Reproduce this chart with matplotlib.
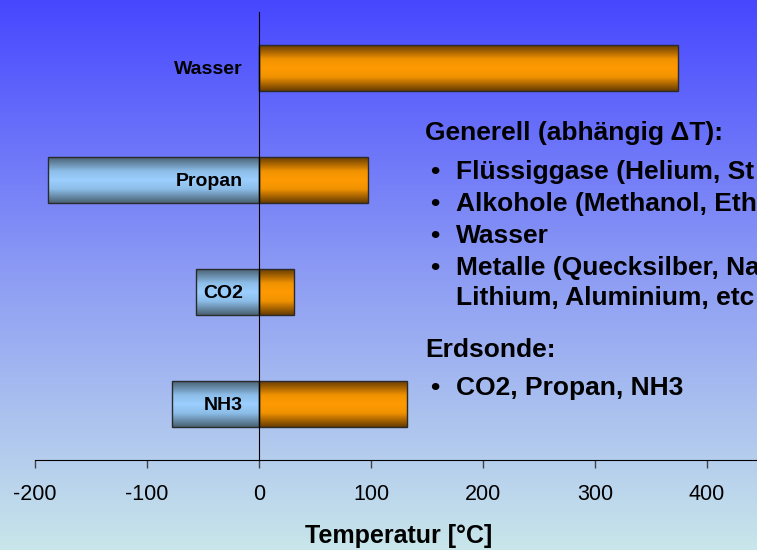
import matplotlib.pyplot as plt
import matplotlib.transforms as mtransforms
import numpy as np
from matplotlib.colors import LinearSegmentedColormap

# fluid temperature ranges (lower limit .. upper limit), bottom to top
fluids = ["NH3", "CO2", "Propan", "Wasser"]
t_low = [-78, -56, -188, 0]
t_high = [132, 31, 97, 374]
x_ticks = [-200, -100, 0, 100, 200, 300, 400]

# side notes, as far as they are visible on the slide
notes = [
    ("head", "Generell (abhängig \u0394T):"),
    ("item", "Flüssiggase (Helium, St"),
    ("item", "Alkohole (Methanol, Eth"),
    ("item", "Wasser"),
    ("item", "Metalle (Quecksilber, Na"),
    ("cont", "Lithium, Aluminium, etc"),
    ("head", "Erdsonde:"),
    ("item", "CO2, Propan, NH3"),
]
note_y = [133, 172, 204, 236, 268, 298, 350, 388]

W, H = 757, 550
plt.rcParams["font.family"] = ["Liberation Sans", "DejaVu Sans"]
fig = plt.figure(figsize=(W / 100, H / 100), dpi=100)

# background gradient
bg = fig.add_axes([0, 0, 1, 1], zorder=-5)
bg_cmap = LinearSegmentedColormap.from_list(
    "bg", [(0.0, "#4747ff"), (0.5, "#8d9cf4"), (1.0, "#c8e6ea")])
bg.imshow(np.linspace(0, 1, 256).reshape(-1, 1), aspect="auto", cmap=bg_cmap,
          extent=[0, 1, 0, 1])
bg.set_axis_off()

x0, x1 = 35, 763
ax = fig.add_axes([x0 / W, (H - 460) / H, (x1 - x0) / W, 448 / H])
ax.patch.set_alpha(0)

orange = LinearSegmentedColormap.from_list(
    "or", [(0.0, "#6a3c00"), (0.3, "#f09200"), (0.5, "#ff9a00"),
           (0.7, "#f09200"), (1.0, "#6a3c00")])
blue = LinearSegmentedColormap.from_list(
    "bl", [(0.0, "#4a6274"), (0.3, "#8cbde8"), (0.5, "#9ccfff"),
           (0.7, "#8cbde8"), (1.0, "#4a6274")])
grad = np.linspace(0, 1, 64).reshape(-1, 1)

y = np.arange(len(fluids))
h = 0.41
neg = ax.barh(y, [min(v, 0) for v in t_low], height=h, facecolor="none",
              edgecolor="#2a2a2a", linewidth=1, zorder=3)
pos = ax.barh(y, t_high, height=h, facecolor="none",
              edgecolor="#2a2a2a", linewidth=1, zorder=3)

for bars, cmap in ((neg, blue), (pos, orange)):
    for b in bars:
        if b.get_width() == 0:
            continue
        bx, by = b.get_x(), b.get_y()
        im = ax.imshow(grad, aspect="auto", cmap=cmap, zorder=2,
                       extent=[bx, bx + b.get_width(), by, by + b.get_height()])
        im.set_clip_path(b)

ax.set_xlim(-200, 450)
ax.set_ylim(-0.5, len(fluids) - 0.5)
ax.tick_params(axis="x", direction="out", length=6, width=1, color="#444444",
               pad=11, labelsize=15.5)
ax.set_xticks(x_ticks)
ax.set_xticklabels([str(t) for t in x_ticks])
ax.set_yticks([])

# category names sit just left of the zero line, like Excel's "next to axis"
lbl_tr = ax.transData + mtransforms.ScaledTranslation(-16 / 100, 0, fig.dpi_scale_trans)
for yi, name in zip(y, fluids):
    ax.text(0, yi, name, transform=lbl_tr, ha="right", va="center_baseline",
            fontsize=14, fontweight="bold", zorder=6)

ax.spines["left"].set_position(("data", 0))
ax.spines["left"].set_zorder(4)
ax.spines["top"].set_visible(False)
ax.spines["right"].set_visible(False)
ax.set_xlabel("Temperatur [°C]", fontsize=18, fontweight="bold", labelpad=14)

for (kind, txt), yy in zip(notes, note_y):
    fy = 1 - yy / H
    if kind == "head":
        fig.text(425 / W, fy, txt, fontsize=19, fontweight="bold", va="center")
    else:
        if kind == "item":
            fig.text(430 / W, fy, "\u2022", fontsize=19, fontweight="bold", va="center")
        fig.text(456 / W, fy, txt, fontsize=19, fontweight="bold", va="center")

fig.savefig("out.png", dpi=100)
